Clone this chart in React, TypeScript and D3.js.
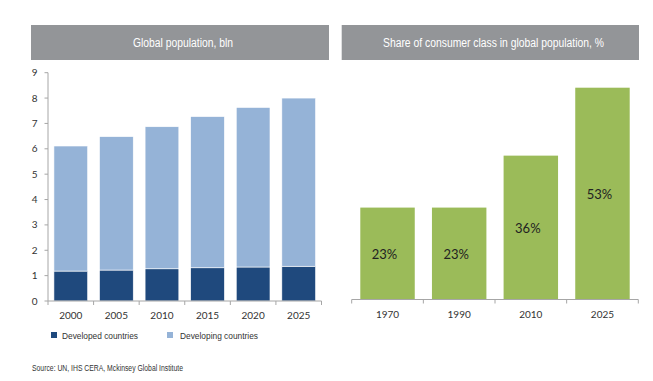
import React from "react";
import * as d3 from "d3";

const popYears = ["2000", "2005", "2010", "2015", "2020", "2025"];
const developed = [1.18, 1.22, 1.27, 1.31, 1.34, 1.37];
const developing = [4.93, 5.26, 5.6, 5.96, 6.29, 6.63];
const popTicks = [0, 1, 2, 3, 4, 5, 6, 7, 8, 9];

const shareYears = ["1970", "1990", "2010", "2025"];
const shareValues = [23, 23, 36, 53];
const shareLabels = ["23%", "23%", "36%", "53%"];

const leftTitle = "Global population, bln";
const rightTitle = "Share of consumer class in global population, %";
const legendLabels = ["Developed countries", "Developing countries"];
const sourceText = "Source: UN, IHS CERA, Mckinsey Global Institute";

const C_DEV = "#1f497d";
const C_DEVING = "#95b3d7";
const C_GREEN = "#9bbb59";
const C_HEAD = "#939598";
const C_AXIS = "#a6a6a6";
const NARROW = "'Liberation Sans', Arial, sans-serif";
const TICKFONT = "Lato, 'Open Sans', sans-serif";

export default function App() {
  // left chart
  const lx = d3.scaleBand().domain(popYears).range([48, 321.5]).paddingInner(0.26).paddingOuter(0.13);
  const ly = d3.scaleLinear().domain([0, 9]).range([301, 72.7]);
  const stacked = d3.stack<any>().keys(["dev", "deving"])(
    popYears.map((y, i) => ({ year: y, dev: developed[i], deving: developing[i] }))
  );
  const colors = [C_DEV, C_DEVING];
  const bandEdges = popYears.map((y) => lx(y)! - (lx.step() * lx.paddingInner()) / 2).concat([321.5]);

  // right chart
  const rx = d3.scaleBand().domain(shareYears).range([351.7, 638.3]).paddingInner(0.24).paddingOuter(0.12);
  const ry = d3.scaleLinear().domain([0, 53]).range([299.5, 87.7]);
  const rEdges = shareYears.map((y) => rx(y)! - (rx.step() * rx.paddingInner()) / 2).concat([638.3]);

  return (
    <svg width={653} height={381} style={{ position: "absolute", left: 0, top: 0, background: "#fff" }}>
      {/* headers */}
      <rect x={31} y={25} width={298} height={35} fill={C_HEAD} />
      <text x={133} y={47} textLength={100} lengthAdjust="spacingAndGlyphs" fill="#fff" fontSize={12.5} fontFamily={NARROW}>
        {leftTitle}
      </text>
      <rect x={341.7} y={25} width={297.3} height={35} fill={C_HEAD} />
      <text x={383} y={47} textLength={221} lengthAdjust="spacingAndGlyphs" fill="#fff" fontSize={12.5} fontFamily={NARROW}>
        {rightTitle}
      </text>

      {/* left bars */}
      {stacked.map((layer, li) =>
        layer.map((d, i) => (
          <rect
            key={`${li}-${i}`}
            x={lx(popYears[i])}
            width={lx.bandwidth()}
            y={ly(d[1])}
            height={ly(d[0]) - ly(d[1])}
            fill={colors[li]}
            stroke="#fff"
            strokeWidth={0.6}
          />
        ))
      )}
      {/* left axes */}
      <line x1={48} x2={48} y1={72.7} y2={301} stroke={C_AXIS} />
      {popTicks.map((t) => (
        <g key={t}>
          <line x1={44.5} x2={48} y1={ly(t)} y2={ly(t)} stroke={C_AXIS} />
          <text x={37.5} y={ly(t) + 3.5} textAnchor="end" fontSize={10} fontFamily={TICKFONT} fill="#333">
            {t}
          </text>
        </g>
      ))}
      <line x1={48} x2={321.5} y1={301} y2={301} stroke={C_AXIS} />
      {bandEdges.map((e, i) => (
        <line key={i} x1={e} x2={e} y1={301} y2={305} stroke={C_AXIS} />
      ))}
      {popYears.map((y) => (
        <text key={y} x={lx(y)! + lx.bandwidth() / 2} y={318.5} textAnchor="middle" fontSize={10} fontFamily={TICKFONT} fill="#333">
          {y}
        </text>
      ))}

      {/* legend */}
      <rect x={51} y={332} width={6} height={6} fill={C_DEV} />
      <text x={62} y={338.5} textLength={76} lengthAdjust="spacingAndGlyphs" fontSize={9.5} fontFamily={NARROW} fill="#333">
        {legendLabels[0]}
      </text>
      <rect x={167} y={332} width={6} height={6} fill={C_DEVING} />
      <text x={180} y={338.5} textLength={78} lengthAdjust="spacingAndGlyphs" fontSize={9.5} fontFamily={NARROW} fill="#333">
        {legendLabels[1]}
      </text>

      {/* source */}
      <text x={32} y={370.5} textLength={151} lengthAdjust="spacingAndGlyphs" fontSize={8.5} fontFamily={NARROW} fill="#333">
        {sourceText}
      </text>

      {/* right bars */}
      {shareYears.map((y, i) => (
        <g key={y}>
          <rect x={rx(y)} width={rx.bandwidth()} y={ry(shareValues[i])} height={ry(0) - ry(shareValues[i])} fill={C_GREEN} />
          <text
            x={rx(y)! + rx.bandwidth() / 2 - 3}
            y={(ry(shareValues[i]) + ry(0)) / 2 + 5}
            textAnchor="middle"
            fontSize={13}
            fontFamily={TICKFONT}
            fill="#222"
          >
            {shareLabels[i]}
          </text>
        </g>
      ))}
      <line x1={351.7} x2={638.3} y1={299.5} y2={299.5} stroke={C_AXIS} />
      {rEdges.map((e, i) => (
        <line key={i} x1={e} x2={e} y1={299.5} y2={303.5} stroke={C_AXIS} />
      ))}
      {shareYears.map((y) => (
        <text key={y} x={rx(y)! + rx.bandwidth() / 2} y={318} textAnchor="middle" fontSize={10} fontFamily={TICKFONT} fill="#333">
          {y}
        </text>
      ))}
    </svg>
  );
}
